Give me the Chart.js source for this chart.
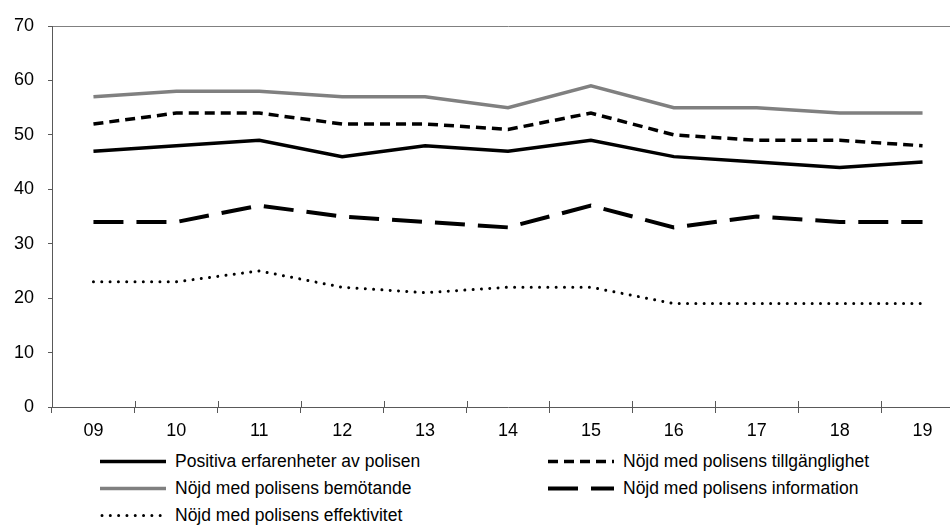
<!DOCTYPE html>
<html>
<head>
<meta charset="utf-8">
<script src="https://cdn.jsdelivr.net/npm/chart.js@4/dist/chart.umd.min.js"></script>
<style>
  html, body { margin: 0; padding: 0; background: #fff; overflow: hidden; width: 950px; height: 527px; }
  #wrap { position: absolute; left: 0; top: 0; width: 964px; height: 445px; }
  #legend { position: absolute; left: 0; top: 448px; width: 950px; font-family: "Liberation Sans", Arial, sans-serif; font-size: 17.5px; color: #000; }
  .item { position: absolute; height: 27px; line-height: 27px; white-space: nowrap; }
  .item svg { position: absolute; left: 0; top: 0; }
  .item span { position: absolute; left: 75px; top: 0; }
</style>
</head>
<body>
<div id="wrap"><canvas id="chart"></canvas></div>
<div id="legend"></div>
<script>
// år (x-axel)
const years = ["09", "10", "11", "12", "13", "14", "15", "16", "17", "18", "19"];

// serier, procent
const positiva = [47, 48, 49, 46, 48, 47, 49, 46, 45, 44, 45];
const tillganglighet = [52, 54, 54, 52, 52, 51, 54, 50, 49, 49, 48];
const bemotande = [57, 58, 58, 57, 57, 55, 59, 55, 55, 54, 54];
const information = [34, 34, 37, 35, 34, 33, 37, 33, 35, 34, 34];
const effektivitet = [23, 23, 25, 22, 21, 22, 22, 19, 19, 19, 19];

const yTicks = [0, 10, 20, 30, 40, 50, 60, 70];

const series = [
    { label: "Positiva erfarenheter av polisen", data: positiva, color: "#000", width: 3.5, dash: [], cap: "butt" },
    { label: "Nöjd med polisens tillgänglighet", data: tillganglighet, color: "#000", width: 3.5, dash: [10, 6], cap: "butt" },
    { label: "Nöjd med polisens bemötande", data: bemotande, color: "#808080", width: 3.5, dash: [], cap: "butt" },
    { label: "Nöjd med polisens information", data: information, color: "#000", width: 4, dash: [30, 13], cap: "butt" },
    { label: "Nöjd med polisens effektivitet", data: effektivitet, color: "#000", width: 3, dash: [0.01, 8.3], cap: "round" }
];

// inre delen av tickmarkeringarna på x-axeln
const innerTicks = {
    id: "innerTicks",
    afterDraw(chart) {
        const a = chart.chartArea;
        const ctx = chart.ctx;
        const step = (a.right - a.left) / years.length;
        ctx.save();
        ctx.strokeStyle = "#595959";
        ctx.lineWidth = 1;
        for (let i = 0; i <= years.length; i++) {
            const x = Math.round(a.left + i * step) + 0.5;
            ctx.beginPath();
            ctx.moveTo(x, a.bottom - 6);
            ctx.lineTo(x, a.bottom);
            ctx.stroke();
        }
        ctx.restore();
    }
};

const ctx = document.getElementById("chart").getContext("2d");
new Chart(ctx, {
    type: "line",
    data: {
        labels: years,
        datasets: series.map(s => ({
            label: s.label,
            data: s.data,
            borderColor: s.color,
            borderWidth: s.width,
            borderDash: s.dash,
            borderCapStyle: s.cap,
            pointRadius: 0,
            tension: 0,
            fill: false
        }))
    },
    options: {
        responsive: true,
        maintainAspectRatio: false,
        animation: false,
        layout: { padding: { top: 26, right: 0, bottom: 0, left: 0 } },
        plugins: { legend: { display: false }, tooltip: { enabled: false } },
        scales: {
            x: {
                offset: true,
                afterFit: (scale) => { scale.height = 38; },
                grid: { drawOnChartArea: false, drawTicks: true, tickLength: 6, color: "#595959", offset: true },
                border: { display: true, color: "#595959", width: 1 },
                ticks: { color: "#000", padding: 7, font: { family: "Liberation Sans, Arial", size: 18 }, maxRotation: 0, autoSkip: false }
            },
            y: {
                min: 0,
                max: 70,
                afterFit: (scale) => { scale.width = 52; },
                afterBuildTicks: (scale) => { scale.ticks = yTicks.map(v => ({ value: v })); },
                grid: {
                    drawTicks: true,
                    tickLength: 4,
                    tickColor: "#595959",
                    color: (c) => (c.tick && c.tick.value === 70 ? "#808080" : "rgba(0,0,0,0)")
                },
                border: { display: true, color: "#595959", width: 1 },
                ticks: { color: "#000", padding: 14, font: { family: "Liberation Sans, Arial", size: 18 } }
            }
        }
    },
    plugins: [innerTicks]
});

// legend i två kolumner
const legendPos = [
    { left: 100, top: 0 }, { left: 548, top: 0 },
    { left: 100, top: 27 }, { left: 548, top: 27 },
    { left: 100, top: 54 }
];
const legend = document.getElementById("legend");
series.forEach((s, i) => {
    const div = document.createElement("div");
    div.className = "item";
    div.style.left = legendPos[i].left + "px";
    div.style.top = legendPos[i].top + "px";
    const dash = s.dash.length ? s.dash.join(" ") : "none";
    div.innerHTML = `
      <svg width="70" height="27"><line x1="${s.cap === "round" ? 2 : 0}" y1="13.5" x2="66" y2="13.5"
        stroke="${s.color}" stroke-width="${s.width}" stroke-dasharray="${dash}" stroke-linecap="${s.cap}"/></svg>
      <span>${s.label}</span>`;
    legend.appendChild(div);
});
</script>
</body>
</html>
